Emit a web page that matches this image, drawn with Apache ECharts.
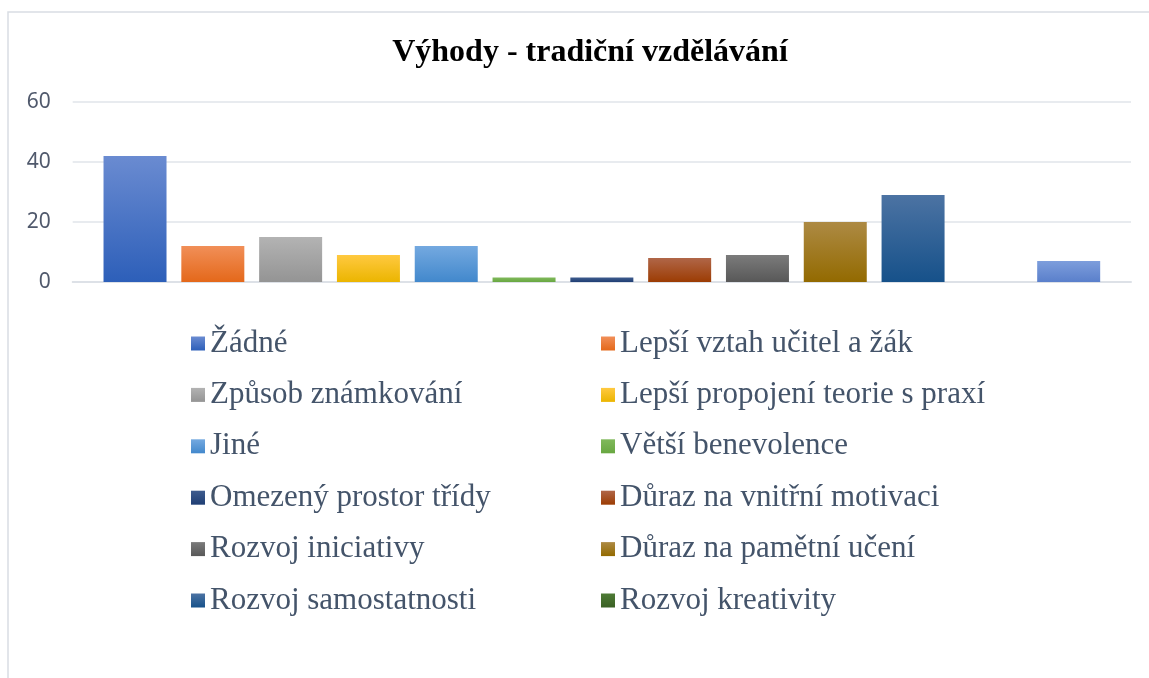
<!DOCTYPE html>
<html>

<head>
    <meta charset="utf-8" />
    <title>Výhody - tradiční vzdělávání</title>
    <script src="https://cdn.jsdelivr.net/npm/echarts@6.0.0/dist/echarts.min.js"></script>
    <style>
        html, body { margin: 0; padding: 0; background: #fff; }
    </style>
</head>

<body>
    <div id="main" style="width: 1149px;height:678px;"></div>
    <script type="text/javascript">
        // data
        var names = ['Žádné', 'Lepší vztah učitel a žák', 'Způsob známkování', 'Lepší propojení teorie s praxí',
            'Jiné', 'Větší benevolence', 'Omezený prostor třídy', 'Důraz na vnitřní motivaci',
            'Rozvoj iniciativy', 'Důraz na pamětní učení', 'Rozvoj samostatnosti', 'Rozvoj kreativity', 'Další'];
        var values = [42, 12, 15, 9, 12, 1.5, 1.5, 8, 9, 20, 29, 0, 7];
        var category = [''];
        var yTicks = [0, 20, 40, 60];

        // gradient colours, top -> bottom
        var palette = [
            ['#6a8bd1', '#2d5fb9'], ['#f18f58', '#e4681a'], ['#b3b3b3', '#949494'], ['#ffc940', '#ebb500'],
            ['#74a9e0', '#4288cc'], ['#80b95b', '#68a741'], ['#3f5c8e', '#1f3e74'], ['#b06648', '#9c3c03'],
            ['#7b7b7b', '#585858'], ['#ad8a44', '#936a00'], ['#4c73a3', '#16518a'], ['#4e7b36', '#3a6024'],
            ['#7d9edc', '#5a7fcb']
        ];

        var myChart = echarts.init(document.getElementById('main'));

        var series = names.map(function (n, i) {
            return {
                name: n,
                type: 'bar',
                data: [values[i]],
                barWidth: 63,
                barGap: '23.5%',
                itemStyle: {
                    color: new echarts.graphic.LinearGradient(0, 0, 0, 1, [
                        { offset: 0, color: palette[i][0] },
                        { offset: 1, color: palette[i][1] }
                    ])
                }
            };
        });

        // legend in two columns, like the original
        var legendText = { fontFamily: 'Liberation Serif', fontSize: 31, color: '#44546A', lineHeight: 31 };
        var leftNames = names.slice(0, 12).filter(function (n, i) { return i % 2 === 0; });
        var rightNames = names.slice(0, 12).filter(function (n, i) { return i % 2 === 1; });

        var option = {
            animation: false,
            title: {
                text: 'Výhody - tradiční vzdělávání',
                left: 585,
                textAlign: 'center',
                top: 32,
                textStyle: { fontFamily: 'Liberation Serif', fontSize: 32, fontWeight: 'bold', color: '#000' }
            },
            graphic: [{
                type: 'rect',
                shape: { x: 8, y: 12, width: 1200, height: 720 },
                style: { fill: 'none', stroke: '#d9dde3', lineWidth: 1.5 },
                silent: true
            }],
            legend: [{
                data: leftNames,
                orient: 'vertical',
                left: 186,
                top: 323,
                itemWidth: 14,
                itemHeight: 14,
                itemGap: 20.4,
                icon: 'rect',
                textStyle: legendText
            }, {
                data: rightNames,
                orient: 'vertical',
                left: 596,
                top: 323,
                itemWidth: 14,
                itemHeight: 14,
                itemGap: 20.4,
                icon: 'rect',
                textStyle: legendText
            }],
            grid: { left: 72.7, right: 18, top: 102, bottom: 396, containLabel: false },
            xAxis: {
                type: 'category',
                data: category,
                axisLine: { lineStyle: { color: '#dde1e7', width: 2 } },
                axisTick: { show: false },
                axisLabel: { show: false }
            },
            yAxis: {
                type: 'value',
                min: yTicks[0],
                max: yTicks[yTicks.length - 1],
                interval: yTicks[1] - yTicks[0],
                axisLine: { show: false },
                axisTick: { show: false },
                axisLabel: { fontFamily: 'Noto Sans', fontSize: 21, color: '#50596C', margin: 22 },
                splitLine: { lineStyle: { color: '#e1e5ea', width: 1.5 } }
            },
            series: series
        };

        myChart.setOption(option);
    </script>
</body>

</html>
